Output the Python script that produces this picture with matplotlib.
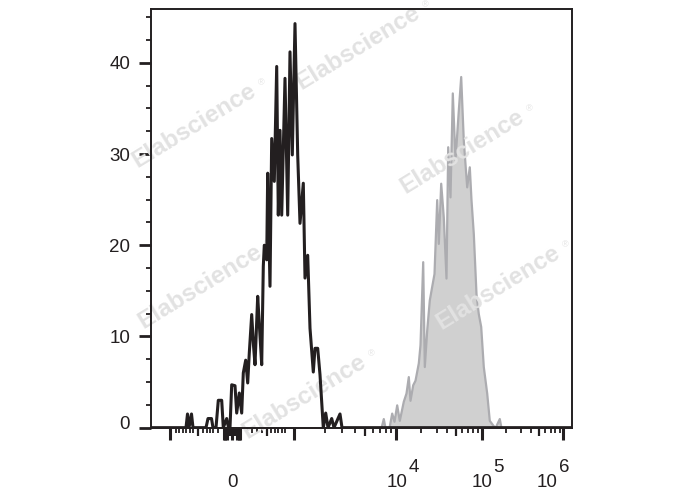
import matplotlib
matplotlib.use('Agg')
import matplotlib.pyplot as plt
import matplotlib.transforms as mtransforms
import numpy as np

plt.rcParams['font.family'] = ['Liberation Sans', 'DejaVu Sans']

# --- histogram data (x in display channels, y in counts) ---
black_ch = [0, 35, 36.5, 38, 40.5, 42, 55, 57, 60.5, 62, 65, 67.3, 70.7, 72.3, 75.7, 77.5,
            79, 80.7, 84, 85.7, 88.3, 90.7, 92.3, 94.7, 96.7, 98.3, 100.7, 102.5, 104, 106.7, 108.5,
            110.7, 112.3, 113.3, 115.7, 116.7, 119, 120.7, 123.3, 125.7, 127.3, 129, 130.7, 134, 136.7, 139,
            141.3, 144, 146.7, 149, 152.3, 154, 156.7, 159, 162.3, 164, 166.7, 169, 172.3, 174.7, 177,
            180.7, 183, 189, 191, 420.7]
black_count = [0, 0, 1.5, 0, 1.5, 0, 0, 1, 1, 0, 0, 3, 3, 0, 1, 0,
               0, 4.7, 4.6, 1.6, 3.8, 1.6, 6.0, 7.4, 4.9, 8.2, 12.4, 9, 6.9, 14.4, 11,
               6.9, 17.7, 20.0, 18.4, 27.9, 15.5, 31.7, 27.0, 39.6, 23.3, 32.6, 23.3, 38.3, 23.3, 41.2,
               29.9, 44.3, 29.9, 22.4, 26.8, 16.4, 18.9, 10.9, 6.1, 8.7, 8.7, 5.8, 0, 1.6, 0,
               1, 0, 1.5, 0, 0]

grey_ch = [0, 227, 230, 232.3, 234, 238, 240.7, 243, 245.7, 248.3, 252.3, 255, 257.3, 259, 261.7, 264,
           267.3, 269, 271.7, 273.3, 275.7, 278.3, 280.7, 283, 285.7, 287.3, 289.7, 292.3, 295, 296.7, 299,
           301.3, 304, 307.3, 309.7, 312.3, 315.7, 318.3, 320, 322.3, 325, 327.3, 329.7, 332.3, 335.7, 338.3,
           341.7, 344, 348.3, 350, 420.7]
grey_count = [0, 0, 0, 1, 0, 0, 1.6, 0.7, 2.5, 0.8, 2.9, 3.8, 5.6, 3.0, 4.7, 5.2,
              7.1, 9.1, 18.2, 6.7, 10.7, 14.0, 15.5, 16.9, 25.0, 20.2, 26.8, 23.1, 16.4, 30.8, 25.3,
              36.7, 29.4, 34.8, 38.5, 31.5, 26.4, 28.6, 25.0, 21.3, 14.7, 12.5, 11.1, 6.7, 3.8, 0.8,
              0.3, 0, 1.0, 0, 0]

# axis ticks (biex display): decades 10^3..10^6 and the linear part round zero
decade_ch = [143, 244.5, 330.5, 412.3]
x_major = [19] + decade_ch
lin_minor = [25, 28.3, 31.7, 35, 39, 41.7, 52.3, 55.7, 59, 62.3, 67.3,
             95.7, 100.7, 105.7, 110.7, 119.7, 124, 127.3, 130.7, 134]
lin_medium = [47.3, 115.7]
zero_long = [72.5, 74, 75.5, 81, 86, 87.5, 89]
zero_short = [77, 78.5, 80, 82.5, 84]
x_label_ch = [245.7, 330.7, 395.7]
x_label_exp = ['4', '5', '6']

y_major = [0, 10, 20, 30, 40]
y_minor = [2.5, 5, 7.5, 12.5, 15, 17.5, 22.5, 25, 27.5, 32.5, 35, 37.5, 42.5, 45]

wm_centres = [(194, 126), (358, 48), (462, 152), (200, 287), (498, 288), (304, 397)]

ink = '#231f20'
W, H = 688, 490
fs = 13.5

fig = plt.figure(figsize=(6.88, 4.9), dpi=100)
ax = fig.add_axes([151 / W, 1 - 428.3 / H, 420.7 / W, (428.3 - 9) / H])

ax.fill_between(grey_ch, grey_count, facecolor='#d0d0d0', edgecolor='#acacb0',
                linewidth=1.6, zorder=1)
ax.plot(black_ch, black_count, color=ink, lw=2.2, zorder=3)

ax.set_xlim(0, 420.7)
ax.set_ylim(-0.07, 45.9)

for s in ax.spines.values():
    s.set_linewidth(1.4)
    s.set_color(ink)

# x ticks
dec_minor, dec_medium = [], []
for a, b in zip(decade_ch[:-1], decade_ch[1:]):
    for k in range(2, 10):
        p = a + (b - a) * np.log10(k)
        (dec_medium if k == 5 else dec_minor).append(p)

ax.set_xticks(x_major + zero_long)
ax.set_xticks(lin_minor + dec_minor, minor=True)
ax.tick_params(axis='x', which='major', length=8.6, width=2.2, color=ink, labelbottom=False)
ax.tick_params(axis='x', which='minor', length=3.6, width=1.3, color=ink)
sec = ax.secondary_xaxis('bottom')
sec.set_xticks(lin_medium + dec_medium + zero_short)
sec.tick_params(length=5.8, width=1.6, color=ink, labelbottom=False)
sec.spines['bottom'].set_visible(False)

# y ticks
ax.set_yticks(y_major)
ax.set_yticks(y_minor, minor=True)
ax.tick_params(axis='y', which='major', length=8.6, width=2.0, color=ink, pad=6.5,
               labelsize=fs, labelcolor=ink)
ax.tick_params(axis='y', which='minor', length=3.6, width=1.3, color=ink)
# the "0" label sits a little above its tick
lab0 = ax.yaxis.get_major_ticks()[0].label1
lab0.set_transform(lab0.get_transform() + mtransforms.ScaledTranslation(0, 5 / 100, fig.dpi_scale_trans))

# x labels written by hand (10 with a full-size exponent)
tr = mtransforms.blended_transform_factory(ax.transData, fig.transFigure)
ax.text(81.5, 1 - 486.7 / H, '0', transform=tr, ha='center', va='baseline',
        fontsize=fs, color=ink, clip_on=False)
for xc, e in zip(x_label_ch, x_label_exp):
    ax.text(xc, 1 - 486.7 / H, '10', transform=tr, ha='center', va='baseline',
            fontsize=fs, color=ink, clip_on=False)
    ax.text(xc + 12, 1 - 472 / H, e, transform=tr, ha='left', va='baseline',
            fontsize=fs, color=ink, clip_on=False)

# watermark
for cx, cy in wm_centres:
    ax.text(cx / W, 1 - cy / H, 'Elabscience', transform=fig.transFigure, rotation=31.5,
            rotation_mode='anchor', ha='center', va='center', fontsize=17.5,
            fontweight='bold', color='#e2e2e2', zorder=2, clip_on=False)
    ax.text((cx + 67) / W, 1 - (cy - 43) / H, '®', transform=fig.transFigure,
            ha='center', va='center', fontsize=6.5, color='#e2e2e2', zorder=2, clip_on=False)

fig.savefig('out.png', dpi=100)
